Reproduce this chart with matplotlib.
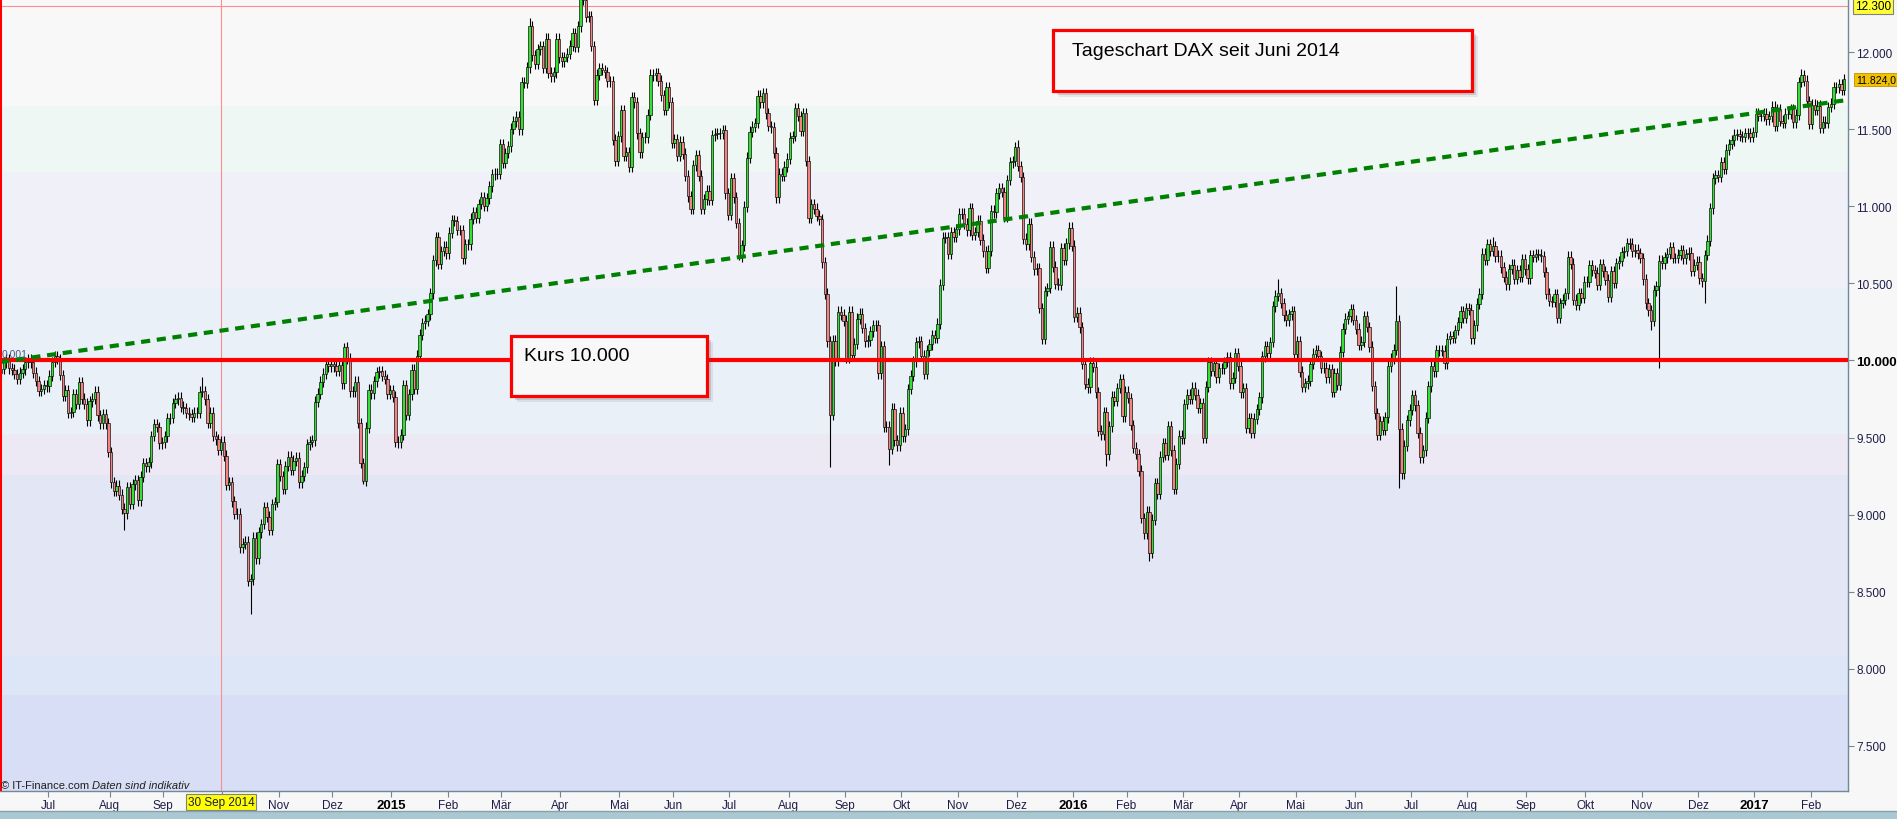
import matplotlib
matplotlib.use("Agg")
import matplotlib.pyplot as plt  # noqa: E402
from matplotlib.patches import Rectangle  # noqa: E402
import numpy as np  # noqa: E402

plt.rcParams["font.family"] = ["Liberation Sans", "DejaVu Sans"]

# DAX daily closes, one list per month
closes_2014 = {
    6: [9947, 9987, 10008, 9950, 9939, 9912, 9883, 9920, 9942, 9987, 10004, 9987, 9920, 9867, 9804, 9815, 9840, 9833],
    7: [9902, 9990, 10029, 10009, 9906, 9772, 9808, 9659, 9666, 9783, 9719, 9859, 9753, 9720, 9612, 9734, 9753, 9797,
        9644, 9593, 9653, 9593, 9407],
    8: [9210, 9154, 9189, 9130, 9039, 9009, 9180, 9070, 9198, 9225, 9092, 9245, 9334, 9314, 9339, 9510, 9588, 9569,
        9462, 9470],
    9: [9507, 9626, 9627, 9724, 9747, 9758, 9700, 9691, 9661, 9651, 9633, 9660, 9661, 9798, 9799, 9749, 9595, 9661,
        9510, 9490, 9422, 9474],
    10: [9382, 9195, 9209, 9086, 9005, 9005, 8788, 8812, 8825, 8572, 8582, 8850, 8717, 8886, 8940, 9047, 8987, 8902,
         9068, 9082, 9326],
    11: [9251, 9166, 9315, 9377, 9291, 9351, 9369, 9211, 9252, 9306, 9456, 9472, 9483, 9732, 9785, 9861, 9915, 9974,
         9963, 9980],
    12: [9963, 9934, 9971, 9851, 10087, 10014, 9799, 9799, 9862, 9594, 9335, 9219, 9564, 9811, 9787, 9866, 9922, 9930,
         9900, 9880, 9783, 9806],
}
closes_2015 = {
    1: [9765, 9473, 9469, 9518, 9838, 9648, 9781, 9941, 9817, 10032, 10168, 10242, 10257, 10299, 10435, 10649, 10798,
        10628, 10710, 10738, 10694],
    2: [10828, 10911, 10905, 10846, 10846, 10663, 10752, 10752, 10919, 10963, 10924, 11014, 11057, 11001, 11051, 11130,
        11206, 11211, 11210, 11402],
    3: [11282, 11345, 11390, 11504, 11551, 11582, 11500, 11806, 11799, 11902, 12167, 11980, 11922, 12019, 12039, 11896,
        12086, 11865, 11843, 11868, 12086, 11966],
    4: [11939, 11968, 11990, 12040, 12123, 12035, 12166, 12375, 12338, 12227, 12231, 12039, 11689, 11852, 11897, 11883,
        11868, 11811, 11811, 11432, 11293, 11454],
    5: [11621, 11327, 11350, 11257, 11709, 11673, 11472, 11351, 11448, 11447, 11595, 11853, 11848, 11864, 11815, 11720,
        11625, 11771, 11673, 11413],
    6: [11436, 11328, 11419, 11340, 11197, 11064, 10985, 11265, 11333, 11197, 10984, 11044, 11100, 11040, 11461, 11471,
        11472, 11473, 11492, 11084, 10945],
    7: [11181, 11058, 10891, 10676, 10748, 10997, 11316, 11484, 11516, 11540, 11716, 11673, 11735, 11604, 11520, 11513,
        11347, 11057, 11211, 11198, 11257, 11308],
    8: [11444, 11456, 11637, 11585, 11490, 11605, 11294, 10925, 11014, 10985, 10940, 10915, 10636, 10432, 10124, 9648,
        10128, 9998, 10316, 10298, 10259],
    9: [10016, 10317, 10038, 10108, 10271, 10303, 10210, 10123, 10132, 10188, 10227, 10229, 9916, 10092, 9571, 9570,
        9428, 9688, 9483, 9450, 9660],
    10: [9509, 9554, 9815, 9902, 9994, 10118, 10124, 10032, 9915, 10065, 10104, 10165, 10147, 10238, 10491, 10795,
         10801, 10692, 10831, 10801, 10850],
    11: [10951, 10951, 10887, 10845, 10988, 10815, 10833, 10907, 10783, 10708, 10600, 10713, 10971, 10960, 11085, 11119,
         11092, 10933, 11170, 11285, 11293, 11382],
    12: [11261, 11190, 10789, 10752, 10886, 10673, 10592, 10598, 10340, 10139, 10450, 10470, 10738, 10608, 10498, 10489,
         10727, 10653, 10760, 10860, 10743],
}
closes_2016 = {
    1: [10283, 10310, 10214, 9979, 9849, 9825, 9985, 9960, 9794, 9545, 9521, 9664, 9392, 9574, 9765, 9737, 9822, 9880,
        9639, 9798],
    2: [9757, 9581, 9434, 9393, 9286, 8979, 8879, 9018, 8752, 8967, 9206, 9135, 9377, 9463, 9388, 9573, 9417, 9167,
        9331, 9513, 9495],
    3: [9717, 9777, 9752, 9824, 9778, 9692, 9723, 9498, 9831, 9990, 9933, 9983, 9892, 9950, 9948, 9990, 10022, 9851,
        9887, 10046, 9966],
    4: [9794, 9822, 9563, 9624, 9530, 9622, 9682, 9761, 10027, 10094, 10051, 10120, 10350, 10421, 10435, 10373, 10294,
        10260, 10299, 10321, 10039],
    5: [10123, 9926, 9828, 9851, 9869, 9980, 10045, 10066, 10029, 9952, 9952, 9890, 9943, 9796, 9916, 9842, 10057,
        10205, 10272, 10287, 10333, 10263],
    6: [10205, 10103, 10121, 10287, 10217, 10088, 9834, 9657, 9519, 9607, 9550, 9631, 9962, 10015, 10071, 10257, 9557,
        9268, 9448, 9612, 9680],
    7: [9776, 9710, 9532, 9373, 9418, 9629, 9833, 9964, 9930, 10068, 10066, 10063, 9982, 10142, 10156, 10147, 10198,
        10247, 10319, 10275, 10337],
    8: [10330, 10144, 10228, 10367, 10432, 10693, 10651, 10754, 10713, 10740, 10676, 10679, 10603, 10544, 10495, 10593,
        10622, 10529, 10587, 10544, 10657, 10592],
    9: [10534, 10684, 10672, 10688, 10687, 10675, 10573, 10432, 10386, 10379, 10431, 10276, 10373, 10394, 10436, 10674,
        10627, 10394, 10361, 10438, 10405, 10511],
    10: [10511, 10619, 10585, 10568, 10490, 10624, 10577, 10523, 10414, 10580, 10504, 10631, 10645, 10701, 10710, 10761,
         10757, 10709, 10717, 10696, 10665],
    11: [10526, 10370, 10325, 10259, 10456, 10482, 10646, 10630, 10668, 10693, 10735, 10664, 10664, 10685, 10714, 10662,
         10689, 10700, 10582, 10620, 10640],
    12: [10534, 10513, 10684, 10776, 10986, 11180, 11203, 11190, 11285, 11244, 11366, 11404, 11427, 11464, 11468, 11456,
         11450, 11472, 11475, 11451, 11481],
}
closes_2017 = {
    1: [11599, 11585, 11585, 11599, 11563, 11583, 11646, 11521, 11629, 11555, 11541, 11599, 11598, 11630, 11545, 11595,
        11806, 11848, 11814, 11681, 11535],
    2: [11659, 11627, 11651, 11509, 11549, 11543, 11643, 11666, 11774, 11771, 11793, 11757, 11824],
}
first_open = 9920

# long wicks: (year, month, trading day of month) -> price
spike_lows = {(2014, 8, 5): 8903, (2014, 10, 10): 8355, (2014, 12, 11): 9200, (2015, 7, 3): 10650,
              (2015, 8, 15): 9310, (2015, 9, 16): 9320, (2016, 1, 12): 9315, (2016, 2, 8): 8699,
              (2016, 6, 16): 9170, (2016, 11, 3): 10200, (2016, 11, 6): 9950, (2016, 12, 2): 10375}
spike_highs = {(2014, 9, 14): 9891, (2014, 12, 4): 10110, (2015, 3, 10): 12219, (2015, 4, 7): 12390,
               (2015, 12, 0): 11430, (2016, 4, 14): 10530, (2016, 6, 15): 10484, (2016, 8, 9): 10802,
               (2017, 1, 17): 11893}

level_line = 10000
marker_line = 12300
trend_start, trend_end = 9990, 11690
cursor_day = (2014, 9, 21)
cursor_label = "30 Sep 2014"
month_names = {2: "Feb", 3: "Mär", 4: "Apr", 5: "Mai", 6: "Jun", 7: "Jul", 8: "Aug", 9: "Sep",
               10: "Okt", 11: "Nov", 12: "Dez"}
price_ticks = [7500, 8000, 8500, 9000, 9500, 10000, 10500, 11000, 11500, 12000]
band_edges = [12500, 11650, 11222, 10471, 9525, 9260, 8081, 7829, 7000]
band_colors = ["#f8f8f8", "#eff7f5", "#eff0f8", "#e9f0f8", "#ece9f5", "#e3e7f5", "#dde6f6", "#d8def5"]


def de(v, dec=0):
    s = f"{v:,.{dec}f}"
    return s.replace(",", "#").replace(".", ",").replace("#", ".")


closes, keys, month_starts = [], [], []
for year, months in ((2014, closes_2014), (2015, closes_2015), (2016, closes_2016), (2017, closes_2017)):
    for m, vals in months.items():
        month_starts.append((len(closes), year, m))
        for k, v in enumerate(vals):
            keys.append((year, m, k))
            closes.append(v)
closes = np.array(closes, float)
opens = np.r_[first_open, closes[:-1]]
WICK = 35  # drawn wick beyond the body
highs = np.maximum(opens, closes) + WICK
lows = np.minimum(opens, closes) - WICK
pos = {k: i for i, k in enumerate(keys)}
for k, v in spike_lows.items():
    lows[pos[k]] = v
for k, v in spike_highs.items():
    highs[pos[k]] = v
x = np.arange(len(closes))

W, H = 1897, 820
fig = plt.figure(figsize=(W / 100, H / 100), dpi=100, facecolor="#f7f7f7")
ax = fig.add_axes([0, 28 / H, 1848 / W, 792 / H])
xmin = -0.39
xmax = xmin + 1848 / 2.683
ax.set_xlim(xmin, xmax)
ax.set_ylim(7208, 12344)

for hi, lo, c in zip(band_edges[:-1], band_edges[1:], band_colors):
    ax.axhspan(lo, hi, color=c, lw=0, zorder=0)

ax.axhline(marker_line, color="#ff8c8c", lw=0.8, zorder=1)
cx = pos[cursor_day]
ax.axvline(cx, color="#ff8c8c", lw=0.8, zorder=1)

up = closes >= opens
ax.vlines(x, lows, highs, color="black", lw=0.8, zorder=3)
ax.bar(x, np.abs(closes - opens), bottom=np.minimum(opens, closes), width=0.88,
       color=np.where(up, "#35e035", "#f58282"), edgecolor="black", linewidth=0.45, zorder=4)

ax.axhline(level_line, color="#ff0000", lw=3, zorder=5)
ax.plot([xmin, xmax], [trend_start, trend_end], color="#008000", lw=3, dashes=(2.2, 1.6),
        dash_capstyle="butt", zorder=6)
ax.axvline(xmin, color="#ff0000", lw=2.2, zorder=7)
ax.text(0.001, level_line + 42, "0.001", transform=ax.get_yaxis_transform(), fontsize=7.5,
        color="#4a5a80", va="center", zorder=7)

# price axis
ax.yaxis.tick_right()
ax.set_yticks(price_ticks)
ax.set_yticklabels([de(v) for v in price_ticks])
ax.tick_params(axis="y", direction="out", length=4, width=0.8, color="#708898", pad=2,
               labelsize=8.5, labelcolor="#1c1c48")
for lab, v in zip(ax.get_yticklabels(), price_ticks):
    if v == level_line:
        lab.set_fontweight("bold")
        lab.set_fontsize(9.5)
        lab.set_color("black")

# time axis
tick_pos, tick_lab = [], []
for start, year, m in month_starts[1:]:
    tick_pos.append(start - 0.5)
    if m == 1:
        tick_lab.append(str(year))
    elif (year, m) == (cursor_day[0], cursor_day[1] + 1):
        tick_lab.append("")
    else:
        tick_lab.append(month_names[m])
ax.set_xticks(tick_pos)
ax.set_xticklabels(tick_lab)
ax.tick_params(axis="x", direction="out", length=4, width=0.8, color="#708898", pad=2,
               labelsize=8.5, labelcolor="#1c1c48")
for lab in ax.get_xticklabels():
    if lab.get_text().isdigit():
        lab.set_fontweight("bold")
        lab.set_fontsize(9.5)
        lab.set_color("black")

for s in ("top", "left"):
    ax.spines[s].set_visible(False)
for s in ("right", "bottom"):
    ax.spines[s].set_color("#708898")
    ax.spines[s].set_linewidth(1)

ax.text(cx, -11 / 792, cursor_label, transform=ax.get_xaxis_transform(), ha="center", va="center",
        fontsize=8.5, color="#1c1c48", clip_on=False,
        bbox=dict(boxstyle="square,pad=0.15", facecolor="#ffff00", edgecolor="#808080", lw=0.8))
ax.text(1 + 7 / 1848, marker_line, de(marker_line), transform=ax.get_yaxis_transform(), ha="left",
        va="center", fontsize=8.5, color="black", clip_on=False,
        bbox=dict(boxstyle="square,pad=0.2", facecolor="#ffff33", edgecolor="#808080", lw=0.8))
ax.text(1 + 8 / 1848, closes[-1], de(closes[-1], 1), transform=ax.get_yaxis_transform(), ha="left",
        va="center", fontsize=7.5, color="black", clip_on=False,
        bbox=dict(boxstyle="square,pad=0.15", facecolor="#f2c200", edgecolor="#c09000", lw=0.6))

fig.text(1 / W, 1 - 786 / H, "© IT-Finance.com", fontsize=8, va="center", color="#202020")
fig.text(92 / W, 1 - 786 / H, "Daten sind indikativ", fontsize=8, va="center", style="italic",
         color="#202020")

# bottom strip
fig.patches.append(Rectangle((0, 0), 1, 8 / H, transform=fig.transFigure, facecolor="#a9c8d2",
                             edgecolor="none", zorder=1))
fig.lines.append(plt.Line2D([0, 1], [8 / H, 8 / H], transform=fig.transFigure, color="#8aa0aa", lw=1))


def note_box(x0, y0, x1, y1, text, tx, ty):
    for off, a in ((6, 0.10), (4, 0.18), (2, 0.22)):
        fig.patches.append(Rectangle(((x0 + off) / W, 1 - (y1 + off) / H), (x1 - x0) / W, (y1 - y0) / H,
                                     transform=fig.transFigure, facecolor="#505050", alpha=a, lw=0,
                                     zorder=8))
    # opaque panel hides the shadow underneath, a lighter veil lets the red level line show through
    fig.patches.append(Rectangle((x0 / W, 1 - y1 / H), (x1 - x0) / W, (y1 - y0) / H,
                                 transform=fig.transFigure, facecolor="#eef0f6", lw=0, zorder=8.5))
    fig.patches.append(Rectangle((x0 / W, 1 - y1 / H), (x1 - x0) / W, (y1 - y0) / H,
                                 transform=fig.transFigure, facecolor=(0.976, 0.976, 0.976, 0.93),
                                 edgecolor="#ff0000", lw=2.3, zorder=9))
    fig.text(tx / W, 1 - ty / H, text, fontsize=14, va="baseline", color="black", zorder=10)


note_box(1053, 31, 1472, 92, "Tageschart DAX seit Juni 2014", 1072, 56)
note_box(511, 337, 707, 397, "Kurs " + de(level_line), 524, 361)

fig.savefig("out.png", dpi=100, facecolor=fig.get_facecolor())
